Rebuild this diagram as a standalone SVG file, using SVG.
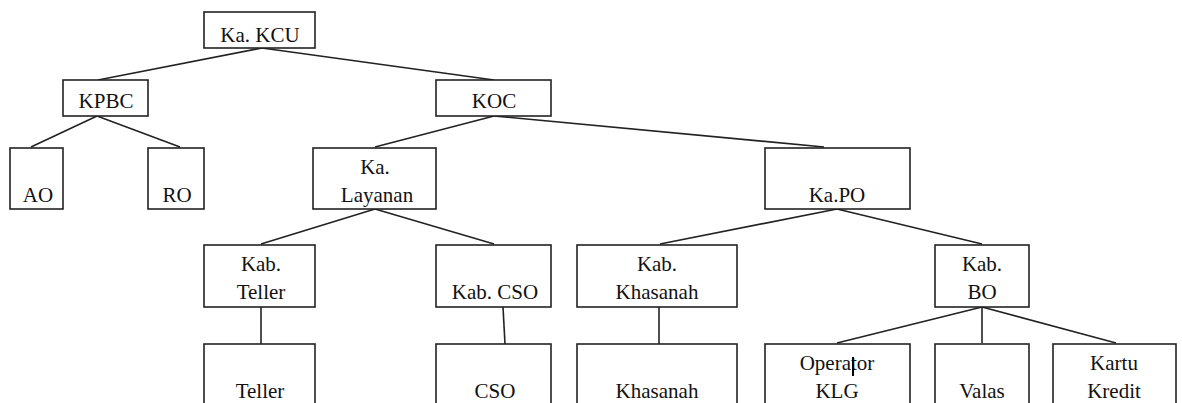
<svg xmlns="http://www.w3.org/2000/svg" width="1182" height="403" viewBox="0 0 1182 403">
<style>
.box{fill:#fff;stroke:#222;stroke-width:1.6}
.t{font-size:21px;fill:#111;text-anchor:middle}
.ln{stroke:#222;stroke-width:1.6;fill:none}
</style>
<rect width="1182" height="403" fill="#fff"/>
<g id="connectors">
<line class="ln" x1="262" y1="48" x2="98" y2="80"/>
<line class="ln" x1="262" y1="48" x2="494" y2="80"/>
<line class="ln" x1="97" y1="116" x2="31" y2="147"/>
<line class="ln" x1="97" y1="116" x2="180" y2="147"/>
<line class="ln" x1="494" y1="116" x2="375" y2="147"/>
<line class="ln" x1="494" y1="116" x2="824" y2="147"/>
<line class="ln" x1="375" y1="209" x2="261" y2="244"/>
<line class="ln" x1="375" y1="209" x2="494" y2="244"/>
<line class="ln" x1="837" y1="209" x2="660" y2="244"/>
<line class="ln" x1="837" y1="209" x2="982" y2="244"/>
<line class="ln" x1="261" y1="307" x2="261" y2="344"/>
<line class="ln" x1="503" y1="307" x2="505" y2="344"/>
<line class="ln" x1="659" y1="307" x2="659" y2="344"/>
<line class="ln" x1="982" y1="307" x2="837" y2="343"/>
<line class="ln" x1="982" y1="307" x2="982" y2="343"/>
<line class="ln" x1="982" y1="307" x2="1116" y2="343"/>
</g>
<g id="nodes" font-family="Liberation Serif, DejaVu Serif, Noto Serif, Times New Roman, serif">
<g id="n-kcu"><rect class="box" x="204" y="12" width="111" height="36"/><text class="t" x="260" y="42">Ka. KCU</text></g>
<g id="n-kpbc"><rect class="box" x="63" y="80" width="85" height="36"/><text class="t" x="106" y="108">KPBC</text></g>
<g id="n-koc"><rect class="box" x="436" y="80" width="115" height="36"/><text class="t" x="494" y="108">KOC</text></g>
<g id="n-ao"><rect class="box" x="10" y="148" width="53" height="61"/><text class="t" x="38" y="202">AO</text></g>
<g id="n-ro"><rect class="box" x="148" y="148" width="56" height="61"/><text class="t" x="177" y="202">RO</text></g>
<g id="n-layanan"><rect class="box" x="313" y="148" width="123" height="61"/><text class="t" x="375" y="174">Ka.</text><text class="t" x="377" y="202">Layanan</text></g>
<g id="n-kapo"><rect class="box" x="765" y="148" width="145" height="61"/><text class="t" x="837" y="202">Ka.PO</text></g>
<g id="n-kabteller"><rect class="box" x="204" y="245" width="111" height="62"/><text class="t" x="261" y="271">Kab.</text><text class="t" x="261" y="299">Teller</text></g>
<g id="n-kabcso"><rect class="box" x="436" y="245" width="115" height="62"/><text class="t" x="495" y="299">Kab. CSO</text></g>
<g id="n-kabkhasanah"><rect class="box" x="577" y="245" width="160" height="62"/><text class="t" x="657" y="271">Kab.</text><text class="t" x="657" y="299">Khasanah</text></g>
<g id="n-kabbo"><rect class="box" x="935" y="245" width="94" height="62"/><text class="t" x="982" y="271">Kab.</text><text class="t" x="982" y="299">BO</text></g>
<g id="n-teller"><rect class="box" x="204" y="344" width="111" height="80"/><text class="t" x="260" y="398">Teller</text></g>
<g id="n-cso"><rect class="box" x="436" y="344" width="115" height="80"/><text class="t" x="495" y="398">CSO</text></g>
<g id="n-khasanah"><rect class="box" x="577" y="344" width="160" height="80"/><text class="t" x="657" y="398">Khasanah</text></g>
<g id="n-operator"><rect class="box" x="765" y="344" width="145" height="80"/><text class="t" x="837" y="370">Operator</text><text class="t" x="837" y="398">KLG</text><line x1="853" y1="357" x2="853" y2="376" stroke="#000" stroke-width="2"/></g>
<g id="n-valas"><rect class="box" x="935" y="344" width="94" height="80"/><text class="t" x="982" y="398">Valas</text></g>
<g id="n-kartu"><rect class="box" x="1053" y="344" width="123" height="80"/><text class="t" x="1114" y="370">Kartu</text><text class="t" x="1114" y="398">Kredit</text></g>
</g>
</svg>
